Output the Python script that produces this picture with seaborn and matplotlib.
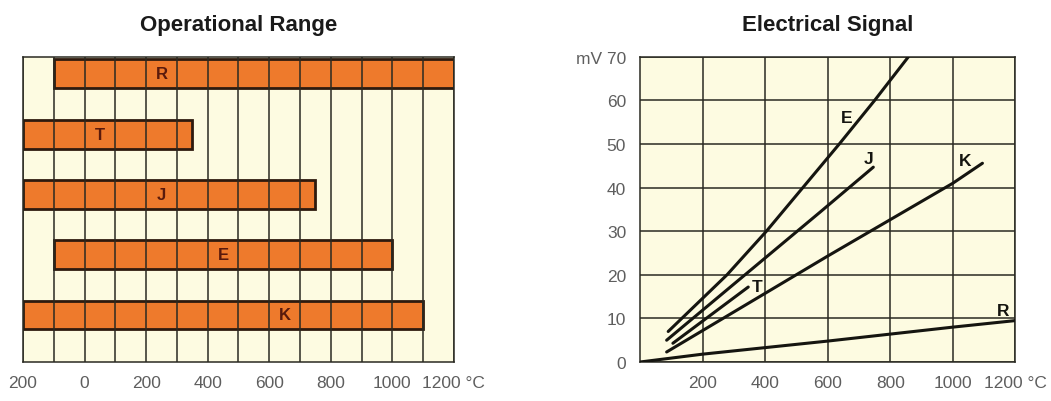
#!/usr/bin/env python3
"""Thermocouple types: operational range bars and electrical signal curves."""

import matplotlib as mpl
import matplotlib.pyplot as plt
import pandas as pd
import seaborn as sns

# --- data ------------------------------------------------------------------
range_types = ["R", "T", "J", "E", "K"]
range_start = [-100, -200, -200, -100, -200]
range_end = [1200, 350, 750, 1000, 1100]
range_label_x = [250, 50, 250, 450, 650]

range_ticks = [-200, 0, 200, 400, 600, 800, 1000, 1200]
range_tick_labels = ["200", "0", "200", "400", "600", "800", "1000", "1200 °C"]

sig_E_t = [90, 278, 404, 637, 750, 858]
sig_E_mv = [7.0, 20.0, 30.0, 50.0, 60.0, 70.0]
sig_J_t = [85, 576, 746]
sig_J_mv = [5.0, 34.4, 44.7]
sig_T_t = [105, 346]
sig_T_mv = [4.3, 17.2]
sig_K_t = [85, 600, 1000, 1095]
sig_K_mv = [2.3, 24.3, 41.0, 45.6]
sig_R_t = [0, 200, 400, 600, 800, 1000, 1200]
sig_R_mv = [0.0, 1.8, 3.3, 4.8, 6.4, 8.0, 9.5]

sig_labels = ["E", "J", "K", "T", "R"]
sig_label_t = [661, 730, 1040, 373, 1160]
sig_label_mv = [56.2, 46.6, 46.2, 17.4, 11.8]

sig_xticks = [200, 400, 600, 800, 1000, 1200]
sig_xtick_labels = ["200", "400", "600", "800", "1000", "1200 °C"]
sig_yticks = [0, 10, 20, 30, 40, 50, 60, 70]
sig_ytick_labels = ["0", "10", "20", "30", "40", "50", "60", "mV 70"]

# --- style -------------------------------------------------------------------
BG = "#fdfbe1"
ORANGE = "#ee7a2c"
EDGE = "#2e1a0e"
GRID = "#2a2a22"
TICK = "#5e5e5e"
FONT = ["Liberation Sans", "DejaVu Sans"]
TICK_SIZE = 12.5

sns.set_style("white")
mpl.rcParams["font.family"] = FONT


def style_frame(ax, title):
    for s in ax.spines.values():
        s.set_color(GRID)
        s.set_linewidth(1.1)
    ax.set_title(title, fontsize=16, fontweight="bold", color="#1a1a1a", pad=19)


def draw_range(ax):
    ax.set_facecolor(BG)
    ypos = list(range(len(range_types)))
    widths = [e - s for s, e in zip(range_start, range_end)]
    ax.barh(ypos, widths, left=range_start, height=0.48, color=ORANGE,
            edgecolor=EDGE, linewidth=2.0, zorder=2)
    for x in range(-200, 1201, 100):
        ax.axvline(x, color=GRID, lw=1.1, zorder=3)
    for y, lab, lx in zip(ypos, range_types, range_label_x):
        ax.text(lx, y, lab, ha="center", va="center", fontsize=12,
                fontweight="bold", color="#5a1a0c", zorder=4)
    ax.set_xlim(-200, 1200)
    ax.set_ylim(4.78, -0.28)
    ax.set_yticks([])
    ax.set_xticks(range_ticks, range_tick_labels)
    ax.tick_params(axis="x", length=0, pad=9, labelsize=TICK_SIZE, labelcolor=TICK)
    style_frame(ax, "Operational Range")


def draw_signal(ax):
    ax.set_facecolor(BG)
    rows = []
    for name, ts, mvs in [("E", sig_E_t, sig_E_mv), ("J", sig_J_t, sig_J_mv),
                          ("T", sig_T_t, sig_T_mv), ("K", sig_K_t, sig_K_mv),
                          ("R", sig_R_t, sig_R_mv)]:
        for t, mv in zip(ts, mvs):
            rows.append({"type": name, "t": t, "mv": mv})
    df = pd.DataFrame(rows)
    sns.lineplot(data=df, x="t", y="mv", hue="type", sort=False,
                 palette={k: "#151510" for k in sig_labels}, lw=2.2,
                 legend=False, ax=ax, zorder=4)
    for lab, lx, ly in zip(sig_labels, sig_label_t, sig_label_mv):
        ax.text(lx, ly, lab, ha="center", va="center", fontsize=12.5,
                fontweight="bold", color="#151510", zorder=5)
    ax.set_xlim(0, 1200)
    ax.set_ylim(0, 70)
    ax.set_xticks(sig_xticks, sig_xtick_labels)
    ax.set_yticks(sig_yticks, sig_ytick_labels)
    ax.grid(True, color=GRID, lw=1.1, zorder=1)
    ax.set_axisbelow(True)
    ax.set_xlabel("")
    ax.set_ylabel("")
    ax.tick_params(axis="x", length=0, pad=9, labelsize=TICK_SIZE, labelcolor=TICK)
    ax.tick_params(axis="y", length=0, pad=10, labelsize=TICK_SIZE, labelcolor=TICK)
    style_frame(ax, "Electrical Signal")


def main():
    fig = plt.figure(figsize=(10.51, 4.02), dpi=100)
    ax1 = fig.add_axes([0.0219, 0.097, 0.410, 0.759])
    ax2 = fig.add_axes([0.609, 0.097, 0.357, 0.759])
    draw_range(ax1)
    draw_signal(ax2)
    fig.savefig("out.png", dpi=100)


if __name__ == "__main__":
    main()
